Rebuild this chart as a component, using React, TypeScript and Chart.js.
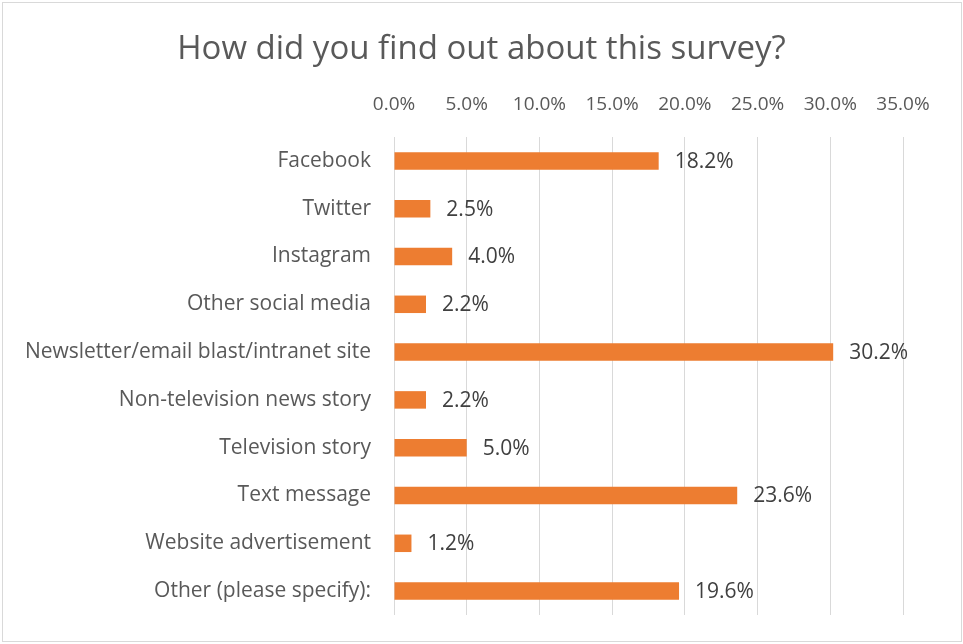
import React, { useEffect, useRef } from "react";
import { Chart, registerables } from "chart.js";

Chart.register(...registerables);

const categories = [
  "Facebook",
  "Twitter",
  "Instagram",
  "Other social media",
  "Newsletter/email blast/intranet site",
  "Non-television news story",
  "Television story",
  "Text message",
  "Website advertisement",
  "Other (please specify):",
];
const values = [18.2, 2.5, 4.0, 2.2, 30.2, 2.2, 5.0, 23.6, 1.2, 19.6];
const titleText = "How did you find out about this survey?";
const axisMin = 0;
const axisMax = 35;
const axisStep = 5;

const FONT = "'Open Sans', Lato, sans-serif";

const valueLabels = {
  id: "valueLabels",
  afterDatasetsDraw(chart: any) {
    const ctx = chart.ctx;
    const meta = chart.getDatasetMeta(0);
    ctx.save();
    ctx.font = `21px ${FONT}`;
    ctx.fillStyle = "#404040";
    ctx.textAlign = "left";
    ctx.textBaseline = "middle";
    meta.data.forEach((bar: any, i: number) => {
      ctx.fillText(values[i].toFixed(1) + "%", bar.x + 16, bar.y + 1);
    });
    ctx.restore();
  },
};

const centeredTitle = {
  id: "centeredTitle",
  afterDraw(chart: any) {
    const ctx = chart.ctx;
    ctx.save();
    ctx.font = `33px ${FONT}`;
    ctx.fillStyle = "#595959";
    ctx.textAlign = "center";
    ctx.textBaseline = "middle";
    ctx.fillText(titleText, chart.width / 2, 50);
    ctx.restore();
  },
};

export default function App() {
  const ref = useRef<HTMLCanvasElement>(null);
  useEffect(() => {
    document.body.style.margin = "0";
    const chart = new Chart(ref.current!, {
      type: "bar",
      data: {
        labels: categories,
        datasets: [
          {
            data: values,
            backgroundColor: "#ED7D31",
            borderWidth: 0,
            categoryPercentage: 0.366,
            barPercentage: 1,
          },
        ],
      },
      options: {
        indexAxis: "y",
        responsive: false,
        animation: false,
        layout: { padding: { left: 0, right: 60, top: 78, bottom: 29 } },
        plugins: {
          legend: { display: false },
          tooltip: { enabled: false },
          title: { display: false },
        },
        scales: {
          x: {
            position: "top",
            min: axisMin,
            max: axisMax,
            ticks: {
              stepSize: axisStep,
              color: "#595959",
              font: { family: FONT, size: 19 },
              padding: 21,
              callback: (v: any) => Number(v).toFixed(1) + "%",
            },
            grid: { color: "#d9d9d9", lineWidth: 1, drawTicks: false },
            border: { display: false },
            afterFit: (s: any) => {
              s.height = 59;
              s.paddingLeft = 0;
              s.paddingRight = 0;
            },
          },
          y: {
            ticks: {
              color: "#595959",
              font: { family: FONT, size: 21 },
              padding: 23,
            },
            grid: { display: false, drawTicks: false },
            border: { display: false },
            afterFit: (s: any) => {
              s.width = 394;
              s.paddingTop = 0;
              s.paddingBottom = 0;
            },
          },
        },
      },
      plugins: [valueLabels, centeredTitle],
    });
    return () => chart.destroy();
  }, []);
  return (
    <div style={{ position: "absolute", left: 0, top: 0, width: 963, height: 644, background: "#fff" }}>
      <canvas ref={ref} width={963} height={644} style={{ display: "block" }} />
      <div
        style={{
          position: "absolute",
          left: 2,
          top: 2,
          width: 960,
          height: 640,
          boxSizing: "border-box",
          border: "1px solid #d9d9d9",
          pointerEvents: "none",
        }}
      />
    </div>
  );
}
